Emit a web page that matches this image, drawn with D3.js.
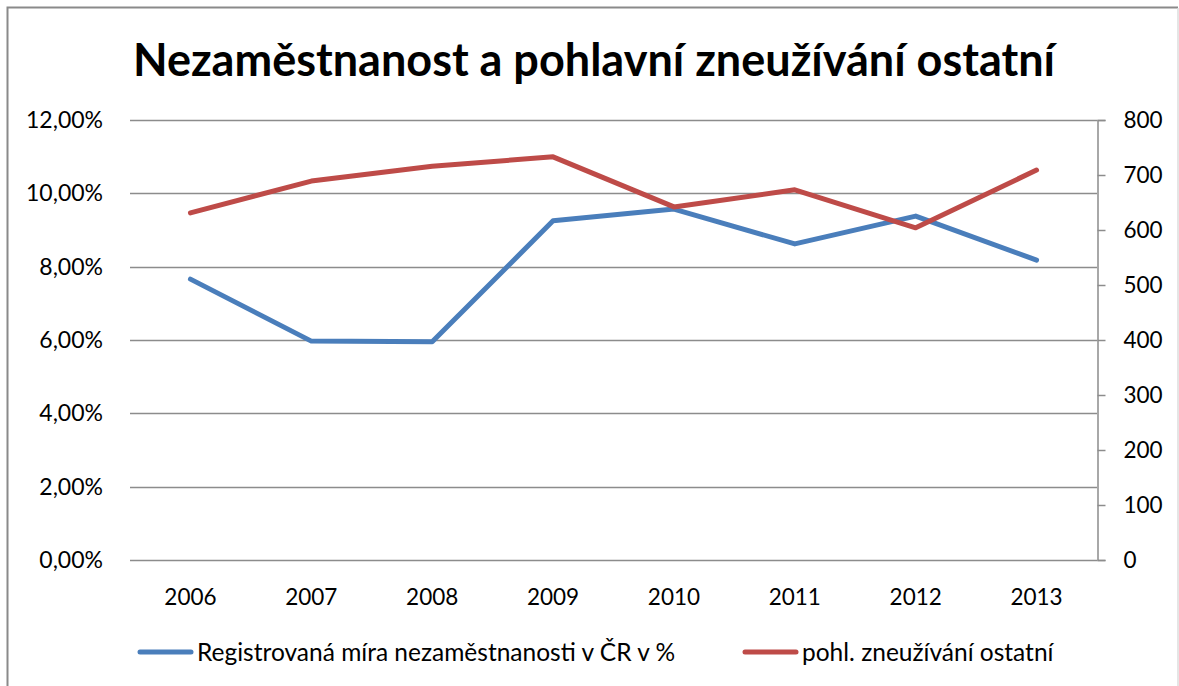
<!DOCTYPE html>
<html>
<head>
<meta charset="utf-8">
<script src="https://cdn.jsdelivr.net/npm/d3@7"></script>
<style>
  body { margin: 0; background: #fff; }
  text { font-family: Lato, "Open Sans", sans-serif; fill: #000; }
</style>
</head>
<body>
<script>
const width = 1179
const height = 686

// data
const years = ['2006', '2007', '2008', '2009', '2010', '2011', '2012', '2013']
const unemployment = [7.66, 5.97, 5.95, 9.25, 9.57, 8.62, 9.38, 8.18]
const abuse = [631, 689, 716, 733, 642, 673, 604, 709]
const leftTicks = [0, 2, 4, 6, 8, 10, 12]
const rightTicks = [0, 100, 200, 300, 400, 500, 600, 700, 800]
const seriesNames = ['Registrovaná míra nezaměstnanosti v ČR v %', 'pohl. zneužívání ostatní']
const colors = ['#4a7ebb', '#be4b48']

const margin = { top: 120, right: 82, bottom: 126, left: 130 }

let svg = d3.select('body').append('svg')
  .attr('width', width)
  .attr('height', height)

// outer border (top and left dark, right faint)
svg.append('path')
  .attr('d', 'M7.5,686 V7.5 H1178')
  .attr('fill', 'none')
  .attr('stroke', '#8a8a8a')
  .attr('stroke-width', 2)
svg.append('line')
  .attr('x1', 1178).attr('x2', 1178)
  .attr('y1', 8).attr('y2', 686)
  .attr('stroke', '#dcdcdc')
  .attr('stroke-width', 1.5)

svg.append('text')
  .attr('x', 594)
  .attr('y', 76)
  .attr('text-anchor', 'middle')
  .style('font-size', '45px')
  .style('font-weight', 'bold')
  .text('Nezaměstnanost a pohlavní zneužívání ostatní')

const x = d3.scalePoint()
  .domain(years)
  .range([margin.left, width - margin.right])
  .padding(0.5)

const yL = d3.scaleLinear().domain([0, 12]).range([height - margin.bottom, margin.top])
const yR = d3.scaleLinear().domain([0, 800]).range([height - margin.bottom, margin.top])

// gridlines
svg.append('g')
  .selectAll('line')
  .data(leftTicks)
  .enter()
  .append('line')
  .attr('x1', margin.left)
  .attr('x2', width - margin.right)
  .attr('y1', (d) => Math.round(yL(d)) + 0.5)
  .attr('y2', (d) => Math.round(yL(d)) + 0.5)
  .attr('stroke', '#8c8c8c')
  .attr('stroke-width', 1.5)

// left axis labels
svg.append('g')
  .selectAll('text')
  .data(leftTicks)
  .enter()
  .append('text')
  .attr('x', 103)
  .attr('y', (d) => yL(d))
  .attr('dy', '0.35em')
  .attr('text-anchor', 'end')
  .style('font-size', '23px')
  .text((d) => d3.format('.2f')(d).replace('.', ',') + '%')

// right axis
let rAxis = svg.append('g')
  .attr('transform', `translate(${width - margin.right + 0.5},0)`)
  .call(d3.axisRight(yR).tickValues(rightTicks).tickSize(8).tickPadding(18))
rAxis.select('.domain').attr('stroke', '#8c8c8c').attr('stroke-width', 1.5)
rAxis.selectAll('.tick line').attr('stroke', '#8c8c8c').attr('stroke-width', 1.5)
rAxis.selectAll('.tick text')
  .style('font-size', '22.5px')
  .style('font-family', 'Lato, sans-serif')
  .attr('fill', '#000')

// x labels
svg.append('g')
  .selectAll('text')
  .data(years)
  .enter()
  .append('text')
  .attr('x', (d) => x(d))
  .attr('y', 597)
  .attr('dy', '0.35em')
  .attr('text-anchor', 'middle')
  .style('font-size', '22.5px')
  .text((d) => d)

// lines
const lineL = d3.line().x((d, i) => x(years[i])).y((d) => yL(d))
const lineR = d3.line().x((d, i) => x(years[i])).y((d) => yR(d))

svg.append('path')
  .attr('d', lineL(unemployment))
  .attr('fill', 'none')
  .attr('stroke', colors[0])
  .attr('stroke-width', 5)
  .attr('stroke-linecap', 'round')
  .attr('stroke-linejoin', 'round')

svg.append('path')
  .attr('d', lineR(abuse))
  .attr('fill', 'none')
  .attr('stroke', colors[1])
  .attr('stroke-width', 5)
  .attr('stroke-linecap', 'round')
  .attr('stroke-linejoin', 'round')

// legend
const legendX = [140, 745]
let legend = svg.append('g')
  .selectAll('g')
  .data(seriesNames)
  .enter()
  .append('g')
  .attr('transform', (d, i) => `translate(${legendX[i]},652)`)

legend.append('line')
  .attr('x1', 0).attr('x2', 51)
  .attr('stroke', (d, i) => colors[i])
  .attr('stroke-width', 5)
  .attr('stroke-linecap', 'round')

legend.append('text')
  .attr('x', 57)
  .attr('dy', '0.35em')
  .style('font-size', '24.5px')
  .text((d) => d)
</script>
</body>
</html>
